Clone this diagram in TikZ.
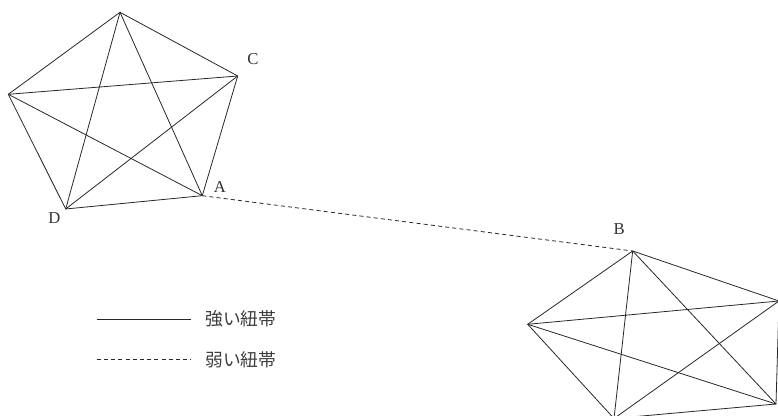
\documentclass[tikz,border=0pt]{standalone}
\usepackage{fontspec}
\setmainfont{Liberation Serif}
\newfontfamily\jpfont{Noto Sans CJK JP}
\usetikzlibrary{positioning}

\tikzset{
  tie/.style={line width=0.6pt, draw={rgb,255:red,40;green,40;blue,40}},
  weaktie/.style={tie, dash pattern=on 3pt off 2.4pt},
  vlabel/.style={inner sep=0.75pt, font=\fontsize{12.5}{12.5}\selectfont, text={rgb,255:red,50;green,50;blue,50}},
  legendtext/.style={anchor=west, inner sep=0.75pt, font=\jpfont\fontsize{13.3}{13.3}\selectfont, text={rgb,255:red,60;green,60;blue,60}}
}

\begin{document}
\begin{tikzpicture}[x=0.75pt,y=0.75pt,yscale=-1,xscale=1]
	\useasboundingbox (0,0) rectangle (778,416);
	
	%Pentagon 1 (vertices)
	\coordinate (p1top) at (120,12.3);
	\coordinate (C) at (237.7,76);
	\coordinate (A) at (202.3,195.7);
	\coordinate (D) at (65.7,209);
	\coordinate (p1left) at (8.3,94.3);
	%Pentagon 2 (vertices)
	\coordinate (B) at (632.7,251);
	\coordinate (p2right) at (779,301);
	\coordinate (p2low) at (776,404);
	\coordinate (p2bot) at (614,418.5);
	\coordinate (p2left) at (527.7,324.3);
	
	%Strong ties: Pentagon 1
	\draw [tie] (p1top) -- (C) -- (A) -- (D) -- (p1left) -- cycle ;
	\draw [tie] (p1top) -- (A) ;
	\draw [tie] (p1top) -- (D) ;
	\draw [tie] (C) -- (D) ;
	\draw [tie] (C) -- (p1left) ;
	\draw [tie] (A) -- (p1left) ;
	%Strong ties: Pentagon 2
	\draw [tie] (B) -- (p2right) -- (p2low) -- (p2bot) -- (p2left) -- cycle ;
	\draw [tie] (B) -- (p2low) ;
	\draw [tie] (B) -- (p2bot) ;
	\draw [tie] (p2right) -- (p2bot) ;
	\draw [tie] (p2right) -- (p2left) ;
	\draw [tie] (p2low) -- (p2left) ;
	
	%Weak tie
	\draw [weaktie] (A) -- (B) ;
	
	% Text Node
	\node [vlabel] (labC) at (253,59) {C};
	% Text Node
	\node [vlabel] (labA) at (220,187) {A};
	% Text Node
	\node [vlabel] (labD) at (54.3,218) {D};
	% Text Node
	\node [vlabel] (labB) at (619.3,229.3) {B};
	
	%Legend
	\node [legendtext] (strong) at (204,319.3) {強い紐帯};
	\node [legendtext] (weak) at (204,359.3) {弱い紐帯};
	\coordinate (strongstart) at (96.7,319.3);
	\coordinate (weakstart) at (96.7,359.3);
	\draw [tie] (strongstart) -- ([xshift=-9.5pt]strong.west) ;
	\draw [weaktie] (weakstart) -- ([xshift=-9.5pt]weak.west) ;
	
\end{tikzpicture}
\end{document}
